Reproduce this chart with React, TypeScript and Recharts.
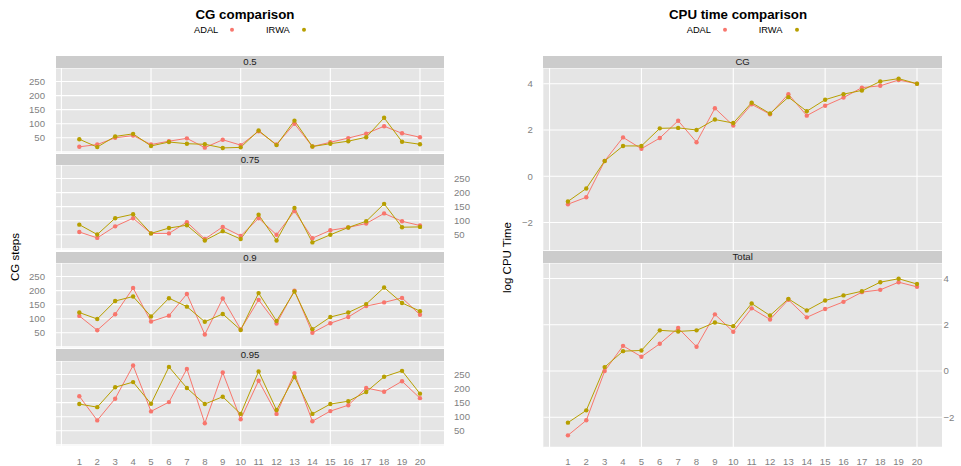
import React from 'react';
import { LineChart, Line, XAxis, YAxis, CartesianGrid, ReferenceLine } from 'recharts';

const runs = [1, 2, 3, 4, 5, 6, 7, 8, 9, 10, 11, 12, 13, 14, 15, 16, 17, 18, 19, 20];

const cgFacets = ['0.5', '0.75', '0.9', '0.95'];
const adal05 = [18, 26, 50, 58, 26, 38, 48, 15, 43, 24, 73, 26, 100, 19, 34, 49, 65, 91, 66, 52];
const irwa05 = [45, 17, 55, 64, 21, 35, 29, 27, 14, 16, 76, 24, 111, 19, 29, 38, 52, 121, 36, 27];
const adal075 = [60, 39, 80, 109, 55, 55, 95, 35, 78, 46, 109, 50, 134, 38, 66, 76, 90, 126, 98, 83];
const irwa075 = [86, 51, 109, 123, 55, 74, 84, 30, 63, 35, 121, 30, 145, 23, 50, 76, 98, 160, 77, 78];
const adal09 = [110, 59, 116, 209, 90, 111, 188, 44, 172, 62, 167, 83, 200, 50, 84, 106, 145, 158, 174, 114];
const irwa09 = [122, 99, 163, 179, 108, 173, 143, 89, 117, 60, 191, 92, 197, 63, 106, 122, 152, 211, 156, 127];
const adal095 = [173, 87, 164, 282, 119, 152, 270, 77, 257, 91, 228, 110, 255, 84, 120, 141, 202, 189, 226, 166];
const irwa095 = [145, 134, 205, 223, 146, 277, 202, 145, 171, 110, 261, 124, 241, 110, 145, 155, 188, 242, 263, 182];

const cpuFacets = ['CG', 'Total'];
const adalCG = [-1.21, -0.91, 0.66, 1.68, 1.19, 1.65, 2.4, 1.47, 2.94, 2.19, 3.11, 2.68, 3.55, 2.62, 3.05, 3.4, 3.83, 3.91, 4.16, 4.0];
const irwaCG = [-1.09, -0.53, 0.66, 1.31, 1.31, 2.07, 2.09, 2.0, 2.45, 2.3, 3.18, 2.71, 3.42, 2.81, 3.31, 3.55, 3.71, 4.1, 4.22, 4.0];
const adalTot = [-2.78, -2.13, 0.0, 1.09, 0.62, 1.18, 1.86, 1.05, 2.45, 1.7, 2.71, 2.23, 3.08, 2.32, 2.68, 2.99, 3.41, 3.51, 3.84, 3.64];
const irwaTot = [-2.23, -1.7, 0.17, 0.86, 0.89, 1.76, 1.71, 1.76, 2.1, 1.94, 2.92, 2.4, 3.12, 2.62, 3.05, 3.27, 3.45, 3.84, 3.99, 3.76];

const cgTicks = [0, 50, 100, 150, 200, 250];
const cpuTicks = [-2, 0, 2, 4];
const xGrid = [0, 5, 10, 15, 20];

const RED = '#F8766D';
const GOLD = '#B79F00';
const FONT = '"Liberation Sans", Arial, Helvetica, sans-serif';
const TICK_COLOR = '#7F7F7F';

const build = (a: number[], b: number[]) => runs.map((r, i) => ({ run: r, ADAL: a[i], IRWA: b[i] }));

type PanelProps = {
  data: any[];
  left: number;
  top: number;
  width: number;
  height: number;
  margin: { top: number; right: number; bottom: number; left: number };
  yOrient: 'left' | 'right';
  yWidth: number;
  yDomain: [number, number];
  yTicks: number[];
  yTickMargin: number;
  yFormat: (v: number) => string;
  showX: boolean;
  xTickMargin: number;
  xDomain: [number, number];
};

function Panel(p: PanelProps) {
  const xh = 20;
  return (
    <div style={{ position: 'absolute', left: p.left, top: p.top }}>
      <LineChart
        width={p.width}
        height={p.height + (p.showX ? xh : 0)}
        data={p.data}
        margin={p.margin}
      >
        <CartesianGrid vertical={false} stroke="#FFFFFF" strokeWidth={1.1} fill="#E5E5E5" fillOpacity={1} />
        {xGrid.map((v) => (
          <ReferenceLine key={v} x={v} stroke="#FFFFFF" strokeWidth={1.1} />
        ))}
        <XAxis
          dataKey="run"
          type="number"
          domain={p.xDomain}
          ticks={runs}
          interval={0}
          allowDataOverflow
          hide={!p.showX}
          height={xh}
          axisLine={false}
          tickLine={false}
          tickSize={0}
          tickMargin={p.xTickMargin}
          tick={{ fill: TICK_COLOR, fontSize: 9.6, fontFamily: FONT }}
        />
        <YAxis
          type="number"
          orientation={p.yOrient}
          width={p.yWidth}
          domain={p.yDomain}
          ticks={p.yTicks}
          interval={0}
          allowDataOverflow
          axisLine={false}
          tickLine={false}
          tickSize={0}
          tickMargin={p.yTickMargin}
          tickFormatter={p.yFormat}
          tick={{ fill: TICK_COLOR, fontSize: 9.6, fontFamily: FONT }}
        />
        <Line
          type="linear"
          dataKey="ADAL"
          stroke={RED}
          strokeWidth={1}
          dot={{ r: 2.2, fill: RED, stroke: 'none' }}
          activeDot={false}
          isAnimationActive={false}
        />
        <Line
          type="linear"
          dataKey="IRWA"
          stroke={GOLD}
          strokeWidth={1}
          dot={{ r: 2.2, fill: GOLD, stroke: 'none' }}
          activeDot={false}
          isAnimationActive={false}
        />
      </LineChart>
    </div>
  );
}

function Strip({ left, top, width, height, label }: { left: number; top: number; width: number; height: number; label: string }) {
  return (
    <div
      style={{
        position: 'absolute',
        left,
        top,
        width,
        height,
        background: '#CCCCCC',
        color: '#1A1A1A',
        fontSize: 9.6,
        fontFamily: FONT,
        lineHeight: `${height}px`,
        textAlign: 'center',
      }}
    >
      {label}
    </div>
  );
}

const cgFmt = (v: number) => (v === 0 ? '' : String(v));
const cpuFmt = (v: number) => (v < 0 ? '\u2212' + Math.abs(v) : String(v));

export default function App() {
  const cgData = [build(adal05, irwa05), build(adal075, irwa075), build(adal09, irwa09), build(adal095, irwa095)];
  const cpuData = [build(adalCG, irwaCG), build(adalTot, irwaTot)];
  const period = 97.75;
  const stripH = 11.7;
  const panelH = 85;
  const xDomL: [number, number] = [-0.3, 21.34];
  const xDomR: [number, number] = [-0.34, 21.36];

  return (
    <div style={{ position: 'absolute', left: 0, top: 0, width: 961, height: 466, background: '#FFFFFF', fontFamily: FONT, overflow: 'hidden' }}>
      <svg width={961} height={466} style={{ position: 'absolute', left: 0, top: 0 }}>
        <text x={245} y={18.8} textAnchor="middle" fontSize={13.3} fontWeight="bold" fontFamily={FONT} fill="#000">CG comparison</text>
        <text x={194} y={32.7} fontSize={9.3} fontFamily={FONT} fill="#000">ADAL</text>
        <circle cx={232} cy={29.7} r={2} fill={RED} />
        <text x={266} y={32.7} fontSize={9.3} fontFamily={FONT} fill="#000">IRWA</text>
        <circle cx={304} cy={29.7} r={2} fill={GOLD} />
        <text x={15} y={257} transform="rotate(-90 15 257)" textAnchor="middle" dominantBaseline="central" fontSize={11.5} fontFamily={FONT} fill="#000">CG steps</text>

        <text x={738} y={18.8} textAnchor="middle" fontSize={13.3} fontWeight="bold" fontFamily={FONT} fill="#000">CPU time comparison</text>
        <text x={686.7} y={32.7} fontSize={9.3} fontFamily={FONT} fill="#000">ADAL</text>
        <circle cx={725} cy={29.7} r={2} fill={RED} />
        <text x={758.7} y={32.7} fontSize={9.3} fontFamily={FONT} fill="#000">IRWA</text>
        <circle cx={797} cy={29.7} r={2} fill={GOLD} />
        <text x={507} y={257.5} transform="rotate(-90 507 257.5)" textAnchor="middle" dominantBaseline="central" fontSize={11.5} fontFamily={FONT} fill="#000">log CPU Time</text>
      </svg>

      {cgFacets.map((f, i) => {
        const stripTop = 56 + i * period;
        const panelTop = stripTop + stripH;
        const rightAxis = i % 2 === 1;
        return (
          <React.Fragment key={f}>
            <Strip left={56} top={stripTop} width={388} height={stripH} label={f} />
            <Panel
              data={cgData[i]}
              left={0}
              top={panelTop}
              width={480}
              height={panelH}
              margin={rightAxis ? { top: 0, right: 0, bottom: 0, left: 56 } : { top: 0, right: 36, bottom: 0, left: 16 }}
              yOrient={rightAxis ? 'right' : 'left'}
              yWidth={rightAxis ? 36 : 40}
              yDomain={[-4, 298]}
              yTicks={cgTicks}
              yTickMargin={rightAxis ? 10 : 11}
              yFormat={cgFmt}
              showX={i === 3}
              xTickMargin={12}
              xDomain={xDomL}
            />
          </React.Fragment>
        );
      })}

      <Strip left={543.3} top={56} width={398.7} height={12.3} label={cpuFacets[0]} />
      <Panel
        data={cpuData[0]}
        left={480}
        top={68.3}
        width={481}
        height={182.7}
        margin={{ top: 0, right: 19, bottom: 0, left: 23.3 }}
        yOrient="left"
        yWidth={40}
        yDomain={[-3.22, 4.68]}
        yTicks={cpuTicks}
        yTickMargin={10.5}
        yFormat={cpuFmt}
        showX={false}
        xTickMargin={10.5}
        xDomain={xDomR}
      />
      <Strip left={543.3} top={251} width={398.7} height={12.3} label={cpuFacets[1]} />
      <Panel
        data={cpuData[1]}
        left={480}
        top={263.3}
        width={481}
        height={184.4}
        margin={{ top: 0, right: 0, bottom: 0, left: 63.3 }}
        yOrient="right"
        yWidth={19}
        yDomain={[-3.3, 4.67]}
        yTicks={cpuTicks}
        yTickMargin={1.5}
        yFormat={cpuFmt}
        showX={true}
        xTickMargin={10.5}
        xDomain={xDomR}
      />
    </div>
  );
}
